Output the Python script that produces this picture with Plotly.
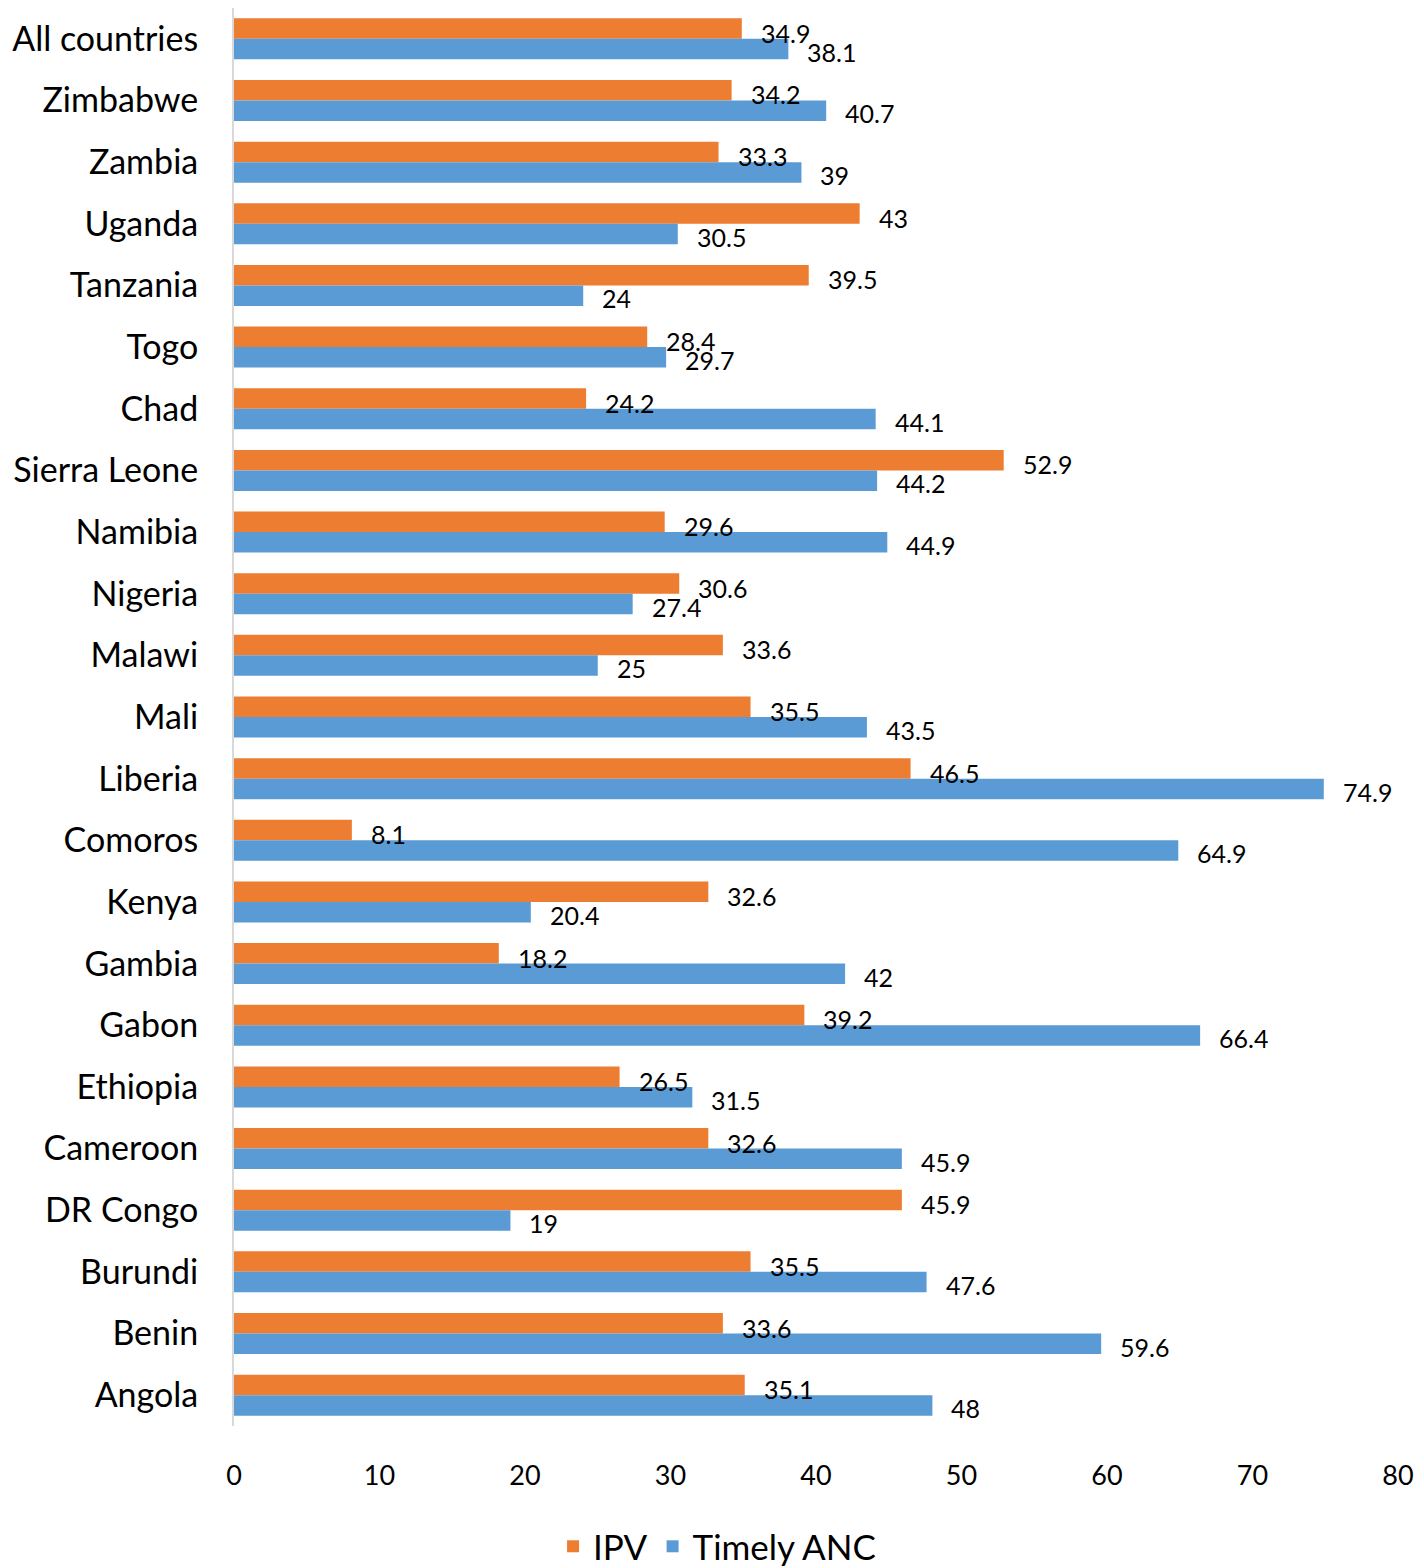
import plotly.graph_objects as go

countries = ["All countries", "Zimbabwe", "Zambia", "Uganda", "Tanzania", "Togo", "Chad",
             "Sierra Leone", "Namibia", "Nigeria", "Malawi", "Mali", "Liberia", "Comoros",
             "Kenya", "Gambia", "Gabon", "Ethiopia", "Cameroon", "DR Congo", "Burundi",
             "Benin", "Angola"]
ipv = [34.9, 34.2, 33.3, 43, 39.5, 28.4, 24.2, 52.9, 29.6, 30.6, 33.6, 35.5, 46.5, 8.1,
       32.6, 18.2, 39.2, 26.5, 32.6, 45.9, 35.5, 33.6, 35.1]
anc = [38.1, 40.7, 39, 30.5, 24, 29.7, 44.1, 44.2, 44.9, 27.4, 25, 43.5, 74.9, 64.9,
       20.4, 42, 66.4, 31.5, 45.9, 19, 47.6, 59.6, 48]
x_ticks = [0, 10, 20, 30, 40, 50, 60, 70, 80]

FONT = "Lato"
ORANGE = "#ED7D31"
BLUE = "#5A9BD5"

fig = go.Figure()
fig.add_trace(go.Bar(y=countries, x=ipv, orientation="h", name="IPV",
                     marker=dict(color=ORANGE, line=dict(width=0))))
fig.add_trace(go.Bar(y=countries, x=anc, orientation="h", name="Timely ANC",
                     marker=dict(color=BLUE, line=dict(width=0))))

annotations = []
for c, v in zip(countries, ipv):
    annotations.append(dict(x=v, y=c, text=f"{v:g}", showarrow=False, xanchor="left",
                            yanchor="middle", xshift=17, yshift=6,
                            font=dict(family=FONT, size=25, color="#000000")))
for c, v in zip(countries, anc):
    annotations.append(dict(x=v, y=c, text=f"{v:g}", showarrow=False, xanchor="left",
                            yanchor="middle", xshift=17, yshift=-13,
                            font=dict(family=FONT, size=25, color="#000000")))

fig.update_layout(
    width=1424, height=1568,
    margin=dict(l=234, r=26, t=8, b=142, autoexpand=False),
    paper_bgcolor="white", plot_bgcolor="white",
    barmode="group", bargap=0.335, bargroupgap=0,
    font=dict(family=FONT, color="#000000"),
    annotations=annotations,
    showlegend=True,
    legend=dict(orientation="h", x=0.415, xanchor="center", y=-0.085, yanchor="middle",
                font=dict(family=FONT, size=35, color="#000000"), itemwidth=30),
    xaxis=dict(range=[0, 80], tickvals=x_ticks, showgrid=False, zeroline=False,
               showline=False, ticks="outside", ticklen=26, tickcolor="rgba(0,0,0,0)",
               automargin=False,
               tickfont=dict(family=FONT, size=27, color="#000000")),
    yaxis=dict(autorange="reversed", showgrid=False, zeroline=False,
               showline=True, linecolor="#D9D9D9", linewidth=2,
               ticks="outside", ticklen=27, tickcolor="rgba(0,0,0,0)",
               automargin=False,
               tickfont=dict(family=FONT, size=34, color="#000000")),
)
fig.write_html("out.html", config={"displayModeBar": False},
               post_script="document.body.style.margin='0';")
